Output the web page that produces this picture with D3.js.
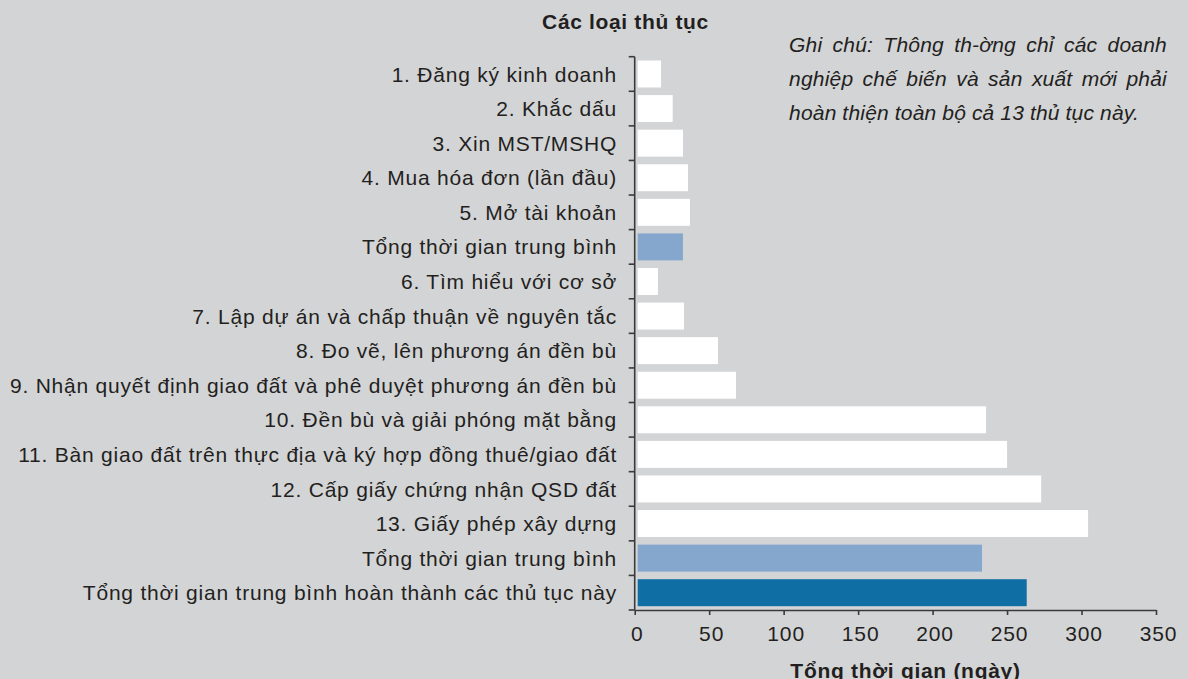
<!DOCTYPE html>
<html>
<head>
<meta charset="utf-8">
<script src="https://cdn.jsdelivr.net/npm/d3@7"></script>
<style>
  html, body { margin: 0; padding: 0; background: #d3d4d6; }
  svg { display: block; font-family: "Liberation Sans", Arial, Helvetica, sans-serif; }
</style>
</head>
<body>
<svg id="chart" width="1188" height="679"></svg>
<script>
// ---- data ----
const categories = [
  "1. Đăng ký kinh doanh",
  "2. Khắc dấu",
  "3. Xin MST/MSHQ",
  "4. Mua hóa đơn (lần đầu)",
  "5. Mở tài khoản",
  "Tổng thời gian trung bình",
  "6. Tìm hiểu với cơ sở",
  "7. Lập dự án và chấp thuận về nguyên tắc",
  "8. Đo vẽ, lên phương án đền bù",
  "9. Nhận quyết định giao đất và phê duyệt phương án đền bù",
  "10. Đền bù và giải phóng mặt bằng",
  "11. Bàn giao đất trên thực địa và ký hợp đồng thuê/giao đất",
  "12. Cấp giấy chứng nhận QSD đất",
  "13. Giấy phép xây dựng",
  "Tổng thời gian trung bình",
  "Tổng thời gian trung bình hoàn thành các thủ tục này"
];
const values = [17.7, 25.5, 32.4, 35.8, 37.1, 32.4, 15.6, 33.1, 55.9, 68.0, 235.9, 250.0, 272.9, 304.4, 233.2, 263.2];
const barTypes = ["step","step","step","step","step","avg","step","step","step","step","step","step","step","step","avg","total"];
const xTicks = [0, 50, 100, 150, 200, 250, 300, 350];
const chartTitle = "Các loại thủ tục";
const axisTitle = "Tổng thời gian (ngày)";
const noteLines = [
  "Ghi chú: Thông th-ờng chỉ các doanh",
  "nghiệp chế biến và sản xuất mới phải",
  "hoàn thiện toàn bộ cả 13 thủ tục này."
];

(function () {
// ---- layout ----
const svg = d3.select("#chart");
const pLeft = 634.7, pRight = 1156, pTop = 56.7, pBottom = 610;
const textColor = "#231f20";
const axisColor = "#3a3a3a";
const colors = { step: "#ffffff", avg: "#86a7cd", total: "#0f6ea3" };

const x = d3.scaleLinear().domain([0, 350]).range([pLeft, pRight]);
const y = d3.scaleBand().domain(d3.range(categories.length)).range([pTop, pBottom])
  .paddingInner(0.22).paddingOuter(0.11);

// bars
svg.append("g").selectAll("rect").data(values).join("rect")
  .attr("x", x(0) + 3)
  .attr("y", (d, i) => y(i))
  .attr("width", d => x(d) - x(0) - 3)
  .attr("height", y.bandwidth())
  .attr("fill", (d, i) => colors[barTypes[i]]);

// y axis line and boundary ticks
const step = (pBottom - pTop) / categories.length;
const yAxis = svg.append("g");
yAxis.append("line").attr("x1", pLeft).attr("x2", pLeft).attr("y1", pTop).attr("y2", pBottom)
  .attr("stroke", axisColor).attr("stroke-width", 1.6);
yAxis.selectAll("line.tk").data(d3.range(categories.length + 1)).join("line")
  .attr("class", "tk")
  .attr("x1", pLeft - 6).attr("x2", pLeft)
  .attr("y1", i => pTop + i * step).attr("y2", i => pTop + i * step)
  .attr("stroke", axisColor).attr("stroke-width", 1.6);

// category labels
svg.append("g").selectAll("text").data(categories).join("text")
  .attr("x", 617)
  .attr("y", (d, i) => y(i) + y.bandwidth() / 2)
  .attr("dy", "0.36em")
  .attr("text-anchor", "end")
  .attr("font-size", 21)
  .attr("letter-spacing", 0.78)
  .attr("fill", textColor)
  .text(d => d);

// x axis
const xAxisG = svg.append("g").attr("transform", `translate(0,${pBottom})`)
  .call(d3.axisBottom(x).tickValues(xTicks).tickSize(5).tickPadding(16).tickSizeOuter(0));
xAxisG.select(".domain").attr("stroke", axisColor).attr("stroke-width", 1.6);
xAxisG.selectAll(".tick line").attr("stroke", axisColor).attr("stroke-width", 1.6);
xAxisG.selectAll(".tick text")
  .attr("font-family", "Liberation Sans, Arial, sans-serif")
  .attr("font-size", 21).attr("letter-spacing", 0.9)
  .attr("fill", textColor).attr("dy", null).attr("y", 31.3)
  .attr("x", 2);

// titles
svg.append("text").attr("x", 625.5).attr("y", 28.5).attr("text-anchor", "middle")
  .attr("font-size", 21).attr("font-weight", "bold").attr("letter-spacing", 0.65)
  .attr("fill", textColor).text(chartTitle);
svg.append("text").attr("x", 905.5).attr("y", 677.5).attr("text-anchor", "middle")
  .attr("font-size", 21).attr("font-weight", "bold").attr("letter-spacing", 0.7)
  .attr("fill", textColor).text(axisTitle);

// note (justified)
const noteX0 = 789, noteX1 = 1167;
const noteBase = [51.7, 85.8, 120.3];
noteLines.forEach((line, li) => {
  const words = line.split(" ");
  const g = svg.append("g");
  const justify = li < noteLines.length - 1;
  const texts = words.map(w => g.append("text")
    .attr("font-size", 21).attr("font-style", "italic").attr("letter-spacing", 0.2)
    .attr("fill", textColor)
    .attr("y", noteBase[li]).text(w));
  const widths = texts.map(t => t.node().getComputedTextLength());
  const total = d3.sum(widths);
  const gap = justify ? (noteX1 - noteX0 - total) / (words.length - 1) : 21 * 0.278;
  let cx = noteX0;
  texts.forEach((t, i) => { t.attr("x", cx); cx += widths[i] + gap; });
});
})();
</script>
</body>
</html>
